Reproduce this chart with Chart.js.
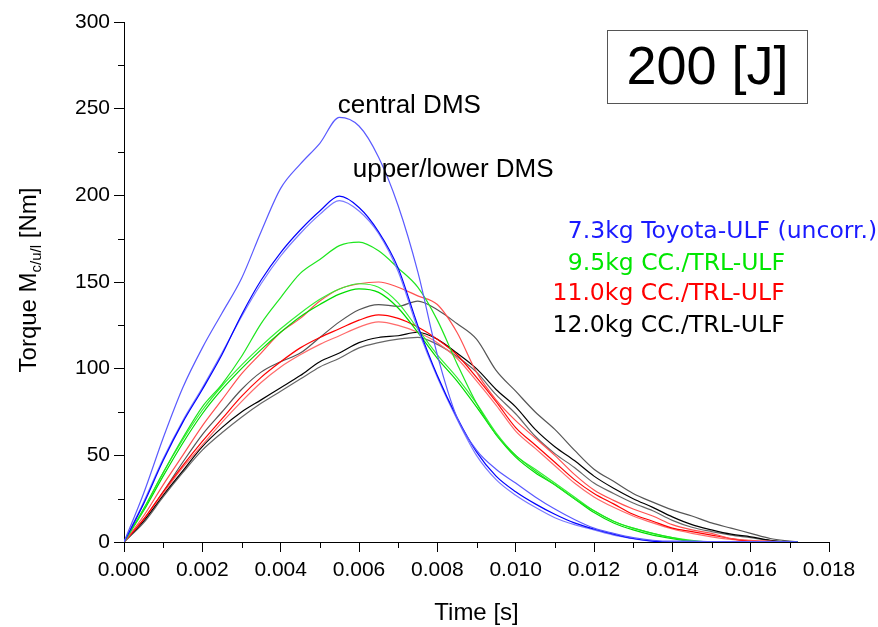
<!DOCTYPE html>
<html>
<head>
<meta charset="utf-8">
<script src="https://cdn.jsdelivr.net/npm/chart.js@4.4.1/dist/chart.umd.min.js"></script>
<style>
  html, body { margin: 0; padding: 0; background: #fff; }
  #wrap { width: 878px; height: 627px; }
</style>
</head>
<body>
<div id="wrap"><canvas id="chart" width="878" height="627"></canvas></div>
<script>
// Sample times in milliseconds
const timeMs = [0, 0.5, 1, 1.5, 2, 2.5, 3, 3.5, 4, 4.5, 5, 5.5, 6, 6.5, 7, 7.5, 8, 8.5, 9, 9.5,
                10, 10.5, 11, 11.5, 12, 12.5, 13, 13.5, 14, 14.5, 15, 15.5, 16, 16.5, 17, 17.2];

// 7.3 kg Toyota-ULF: central, upper and lower DMS torque [Nm]
const toyotaCentral = [0, 28, 60, 89, 112, 132, 152, 179, 204, 218, 230, 245, 240, 222, 194, 156, 108, 72, 53, 42,
                       34, 26, 19, 13, 8, 5, 2.5, 1, 0.5, 0.5, 0.3, 0.3, 0.2, 0.2, 0.1, 0];
const toyotaUpper   = [0, 22, 47, 69, 88, 108, 131, 151, 167, 180, 191, 199.5, 193, 179, 158, 125, 96, 72, 52, 38,
                       29, 22, 16, 11, 7.5, 4.5, 2, 0.5, 0, 0, 0, 0, 0, 0, 0, 0];
const toyotaLower   = [0, 23, 48, 70, 89, 109, 130, 149, 165, 178, 189, 197, 191, 178, 156, 123, 95, 71, 50, 36,
                       27, 20, 14, 10, 7, 4, 2, 0.5, 0, 0, 0, 0, 0, 0, 0, 0];

// 9.5 kg CC./TRL-ULF
const trl95Central = [0, 19, 40, 60, 78, 91, 107, 126, 141, 155, 163, 171, 173, 168, 158, 147, 128, 103, 80, 62,
                      50, 41, 33, 25, 18, 12, 8, 5, 2.5, 0.5, 0, 0, 0, 0, 0, 0];
const trl95Upper   = [0, 19, 40, 59, 76, 90, 102, 113, 123, 132, 140, 146, 149, 147, 138, 123, 108, 95, 80, 63,
                      50, 42, 34, 26, 18, 12, 8, 5, 2.5, 1, 0, 0, 0, 0, 0, 0];
const trl95Lower   = [0, 18, 38, 57, 74, 88, 100, 111, 121, 130, 137, 143, 146, 144, 135, 121, 106, 93, 78, 62,
                      49, 40, 33, 25, 17, 11, 7, 4, 2, 0.5, 0, 0, 0, 0, 0, 0];

// 11.0 kg CC./TRL-ULF
const trl110Central = [0, 15, 33, 50, 67, 82, 97, 109, 121, 129, 139, 146, 149, 150, 147, 142, 137, 121, 98, 82,
                       70, 60, 50, 39, 30, 24, 19, 15, 10, 7, 5, 2, 1, 0.5, 0, 0];
const trl110Upper   = [0, 13, 29, 44, 58, 71, 84, 95, 104, 112, 118, 123, 128, 131, 129, 124, 117, 108, 95, 81,
                       66, 56, 46, 36, 28, 22, 16, 12, 8, 6, 4, 2, 0.5, 0, 0, 0];
const trl110Lower   = [0, 13, 28, 43, 56, 69, 81, 92, 101, 108, 114, 119, 124, 127, 125, 121, 115, 106, 93, 79,
                       64, 54, 44, 34, 26, 20, 15, 11, 7.5, 5, 3, 1.5, 0.5, 0, 0, 0];

// 12.0 kg CC./TRL-ULF
const trl120Central = [0, 13, 29, 46, 62, 75, 88, 98, 104, 109, 118, 127, 134, 137, 136, 139, 134, 126, 117, 99,
                       87, 75, 65, 53, 42, 35, 28, 23, 18.5, 15, 11, 8, 5, 2, 0.5, 0];
const trl120Upper   = [0, 12, 27, 41, 55, 66, 75, 82, 89, 96, 104, 109, 115, 118, 119, 121, 117, 109, 100, 88,
                       78, 65, 55, 47, 38, 31, 25, 20, 14.5, 10, 7, 4.5, 3, 1, 0, 0];
const trl120Lower   = [0, 11, 26, 40, 53, 63, 72, 80, 87, 94, 101, 106, 112, 115, 117, 118, 114, 107, 98, 85,
                       74, 61, 51, 43, 34, 28, 22.5, 18, 12.5, 8.5, 6, 4, 2.5, 0.8, 0, 0];

// Axis tick values
const xTicks = [0, 0.002, 0.004, 0.006, 0.008, 0.010, 0.012, 0.014, 0.016, 0.018];
const yTicks = [0, 50, 100, 150, 200, 250, 300];

// Legend entries (text, colour, anchor time [s], anchor torque [Nm])
const legendItems = [
  { text: '7.3kg Toyota-ULF (uncorr.)', color: '#1a1aff', t: 0.01133, v: 175.6 },
  { text: '9.5kg CC./TRL-ULF',          color: '#00e600', t: 0.01133, v: 157.0 },
  { text: '11.0kg CC./TRL-ULF',         color: '#ff0000', t: 0.01094, v: 139.6 },
  { text: '12.0kg CC./TRL-ULF',         color: '#000000', t: 0.01094, v: 121.3 }
];

function toPoints(values) {
  return values.map((v, i) => ({ x: timeMs[i] / 1000, y: v }));
}

function series(label, values, color) {
  return {
    label: label,
    data: toPoints(values),
    borderColor: color,
    borderWidth: 1.2,
    pointRadius: 0,
    cubicInterpolationMode: 'monotone',
    fill: false
  };
}

const datasets = [
  series('7.3kg central', toyotaCentral, '#5a5aff'),
  series('7.3kg upper', toyotaUpper, '#0000ff'),
  series('7.3kg lower', toyotaLower, '#7a7aff'),
  series('9.5kg central', trl95Central, '#1ee61e'),
  series('9.5kg upper', trl95Upper, '#33f033'),
  series('9.5kg lower', trl95Lower, '#00dd00'),
  series('11.0kg central', trl110Central, '#ff5050'),
  series('11.0kg upper', trl110Upper, '#ff0000'),
  series('11.0kg lower', trl110Lower, '#ff6a6a'),
  series('12.0kg central', trl120Central, '#555555'),
  series('12.0kg upper', trl120Upper, '#000000'),
  series('12.0kg lower', trl120Lower, '#666666')
];

const SANS = '"Liberation Sans", Arial, sans-serif';

// Minor ticks, annotations, legend, energy box and axis titles
const decorations = {
  id: 'decorations',
  afterDraw(chart) {
    const { ctx } = chart;
    const x = chart.scales.x, y = chart.scales.y;
    ctx.save();

    // minor ticks
    ctx.strokeStyle = '#000';
    ctx.lineWidth = 1;
    ctx.beginPath();
    for (let i = 1; i < 18; i += 2) {
      const px = Math.round(x.getPixelForValue(i / 1000)) + 0.5;
      ctx.moveTo(px, y.bottom);
      ctx.lineTo(px, y.bottom + 6);
    }
    for (let v = 25; v < 300; v += 50) {
      const py = Math.round(y.getPixelForValue(v)) + 0.5;
      ctx.moveTo(x.left, py);
      ctx.lineTo(x.left - 6, py);
    }
    ctx.stroke();

    // curve annotations
    ctx.fillStyle = '#000';
    ctx.textAlign = 'left';
    ctx.textBaseline = 'alphabetic';
    ctx.font = '26px ' + SANS;
    ctx.fillText('central DMS', x.getPixelForValue(0.00546), y.getPixelForValue(247.3));
    ctx.fillText('upper/lower DMS', x.getPixelForValue(0.00584), y.getPixelForValue(210.8));

    // legend text
    ctx.font = '23.5px "DejaVu Sans", Verdana, sans-serif';
    legendItems.forEach(item => {
      ctx.fillStyle = item.color;
      ctx.fillText(item.text, x.getPixelForValue(item.t), y.getPixelForValue(item.v));
    });

    // energy box
    const bx0 = Math.round(x.getPixelForValue(0.01232)) + 0.5;
    const bx1 = Math.round(x.getPixelForValue(0.01745)) + 0.5;
    const by0 = Math.round(y.getPixelForValue(295.4)) + 0.5;
    const by1 = Math.round(y.getPixelForValue(253.3)) + 0.5;
    ctx.strokeStyle = '#555';
    ctx.lineWidth = 1;
    ctx.strokeRect(bx0, by0, bx1 - bx0, by1 - by0);
    ctx.fillStyle = '#000';
    ctx.font = '54px ' + SANS;
    ctx.textAlign = 'center';
    ctx.textBaseline = 'middle';
    ctx.fillText('200 [J]', (bx0 + bx1) / 2, (by0 + by1) / 2 + 2);

    // x axis title
    ctx.font = '24px ' + SANS;
    ctx.textBaseline = 'alphabetic';
    ctx.fillText('Time [s]', (x.left + x.right) / 2, 620);

    // y axis title with subscript
    const main1 = 'Torque M', sub = 'c/u/l', main2 = ' [Nm]';
    const fMain = '24px ' + SANS, fSub = '15px ' + SANS;
    ctx.font = fMain;
    const w1 = ctx.measureText(main1).width;
    const w3 = ctx.measureText(main2).width;
    ctx.font = fSub;
    const w2 = ctx.measureText(sub).width;
    const total = w1 + w2 + w3;
    ctx.translate(36, 280);
    ctx.rotate(-Math.PI / 2);
    ctx.textAlign = 'left';
    let cx = -total / 2;
    ctx.font = fMain;
    ctx.fillText(main1, cx, 0);
    cx += w1;
    ctx.font = fSub;
    ctx.fillText(sub, cx, 5);
    cx += w2;
    ctx.font = fMain;
    ctx.fillText(main2, cx, 0);

    ctx.restore();
  }
};

new Chart(document.getElementById('chart'), {
  type: 'line',
  data: { datasets: datasets },
  options: {
    responsive: false,
    devicePixelRatio: 1,
    animation: false,
    layout: { padding: { left: 0, right: 49, top: 22, bottom: 0 } },
    plugins: { legend: { display: false }, tooltip: { enabled: false } },
    scales: {
      x: {
        type: 'linear',
        min: 0,
        max: 0.018,
        afterBuildTicks(scale) { scale.ticks = xTicks.map(v => ({ value: v })); },
        afterFit(scale) { scale.height = 85; },
        border: { display: true, color: '#000', width: 1 },
        grid: { drawOnChartArea: false, drawTicks: true, tickLength: 10, tickColor: '#000', tickWidth: 1 },
        ticks: {
          color: '#000',
          font: { family: SANS, size: 21 },
          padding: 6,
          maxRotation: 0,
          autoSkip: false,
          callback: v => Number(v).toFixed(3)
        }
      },
      y: {
        type: 'linear',
        min: 0,
        max: 300,
        afterBuildTicks(scale) { scale.ticks = yTicks.map(v => ({ value: v })); },
        afterFit(scale) { scale.width = 124; },
        border: { display: true, color: '#000', width: 1 },
        grid: { drawOnChartArea: false, drawTicks: true, tickLength: 10, tickColor: '#000', tickWidth: 1 },
        ticks: {
          color: '#000',
          font: { family: SANS, size: 21 },
          padding: 4,
          autoSkip: false,
          callback: v => String(v)
        }
      }
    }
  },
  plugins: [decorations]
});
</script>
</body>
</html>
